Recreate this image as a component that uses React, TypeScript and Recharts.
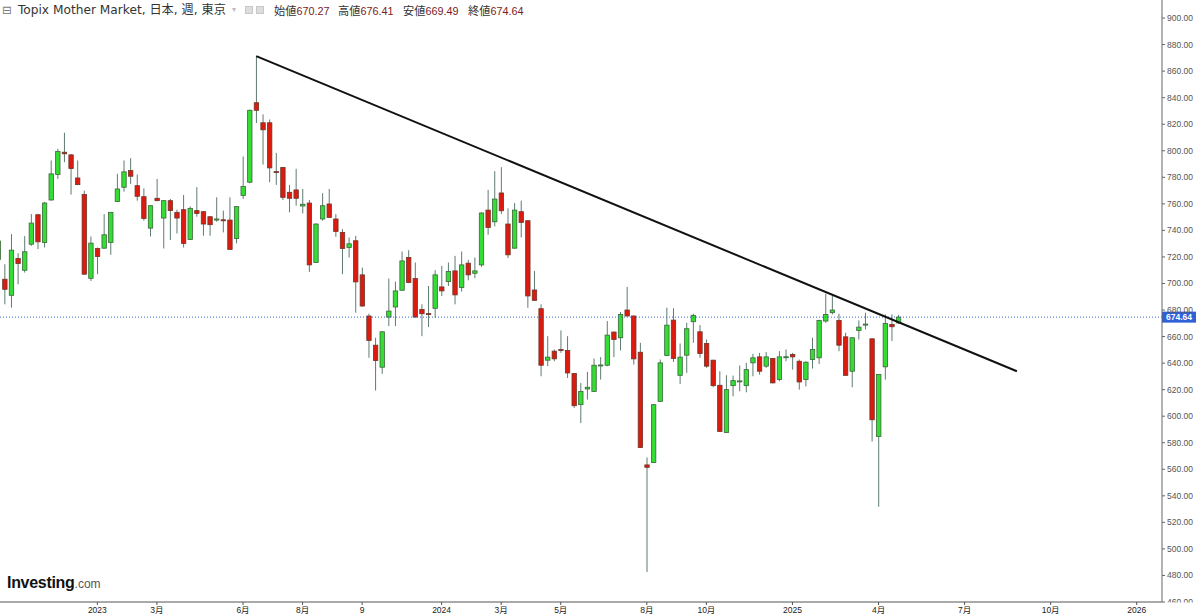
import React from 'react'
import { ComposedChart, Bar, XAxis, YAxis, ReferenceLine } from 'recharts'

// weekly OHLC (week index 0 = first visible candle)
const opens = [
  718, 703.2, 691.1, 718.8, 710.0, 729.6, 751.8, 730.9, 762.9, 782.1,
  798.9, 796.9, 779.5, 767.0, 703.9, 726.4, 726.6, 730.9, 761.7, 772.5,
  785.1, 773.7, 765.4, 741.7, 764.2, 749.3, 762.4, 753.6, 755.6, 733.2,
  754.9, 754.1, 750.3, 747.8, 748.0, 747.8, 733.9, 766.4, 776.3, 836.2,
  821.1, 821.1, 784.3, 787.4, 768.7, 770.5, 758.4, 760.6, 715.8, 748.6,
  759.9, 748.6, 738.5, 727.1, 732.2, 706.5, 675.5, 653.5, 636.9, 674.7,
  682.3, 694.9, 719.6, 703.7, 680.5, 677.3, 681.3, 697.4, 701.4, 709.5,
  696.9, 715.3, 707.7, 714.0, 755.3, 746.5, 768.2, 744.8, 726.6, 754.1,
  747.3, 695.1, 681.0, 642.2, 649.0, 650.3, 649.5, 632.1, 608.7, 620.5,
  618.7, 638.0, 638.4, 663.4, 659.1, 680.0, 675.5, 648.2, 563.3, 565.1,
  611.2, 645.7, 672.4, 630.8, 646.0, 671.2, 663.6, 654.8, 642.2, 623.3,
  587.8, 623.0, 626.0, 623.0, 640.2, 644.7, 637.7, 643.5, 627.6, 644.3,
  646.5, 641.4, 627.6, 642.7, 644.0, 671.7, 678.0, 672.2, 659.8, 633.9,
  664.6, 669.0, 658.3, 584.7, 637.2, 669.2, 670.27,
]
const highs = [
  738.5, 714.5, 737.2, 722.8, 735.7, 752.3, 752.5, 761.5, 792.7, 801.5,
  813.6, 797.5, 792.7, 770.0, 735.4, 727.1, 752.3, 753.9, 782.6, 792.7,
  794.4, 782.1, 771.7, 759.0, 778.8, 762.8, 763.7, 755.6, 766.7, 758.1,
  772.5, 754.5, 750.7, 764.9, 754.9, 764.9, 758.3, 795.7, 831.0, 871.3,
  827.4, 823.6, 798.4, 787.8, 774.3, 786.4, 771.2, 762.9, 745.3, 768.0,
  771.2, 752.3, 741.0, 734.7, 735.9, 712.0, 677.2, 659.1, 664.0, 703.7,
  701.4, 724.1, 725.1, 715.8, 684.3, 698.1, 710.0, 713.3, 715.8, 720.8,
  724.1, 717.8, 719.6, 753.6, 770.5, 784.6, 787.6, 756.6, 760.6, 762.4,
  747.7, 709.5, 684.3, 660.3, 650.3, 664.6, 660.3, 632.5, 625.0, 633.4,
  643.4, 644.5, 671.7, 663.8, 678.5, 697.4, 675.9, 655.3, 568.9, 609.1,
  642.7, 681.7, 681.3, 654.8, 670.4, 677.2, 668.6, 657.8, 642.6, 633.9,
  630.9, 630.6, 638.2, 640.2, 647.0, 647.7, 648.3, 643.9, 649.0, 650.3,
  647.7, 642.7, 641.4, 659.1, 672.6, 692.3, 690.6, 677.2, 662.9, 659.5,
  672.2, 678.0, 658.7, 631.8, 676.7, 676.7, 676.41,
]
const lows = [
  712, 684.3, 681.8, 699.4, 708.2, 728.4, 725.9, 727.1, 762.5, 778.8,
  791.4, 767.0, 774.1, 706.6, 701.9, 707.0, 726.2, 721.6, 761.3, 769.2,
  775.0, 762.4, 747.3, 735.4, 762.0, 726.4, 732.7, 737.7, 727.1, 732.8,
  750.3, 736.0, 736.0, 746.5, 738.5, 725.2, 730.2, 763.7, 775.5, 820.9,
  789.6, 776.3, 774.3, 762.9, 753.6, 758.6, 752.8, 708.7, 715.4, 747.3,
  749.4, 735.2, 707.0, 719.6, 678.0, 682.6, 644.0, 619.3, 631.9, 667.9,
  667.9, 694.5, 700.3, 674.3, 660.3, 667.2, 674.2, 690.6, 698.1, 684.3,
  693.9, 702.4, 704.0, 712.5, 736.7, 743.0, 752.3, 719.1, 726.2, 734.7,
  681.7, 686.9, 630.1, 637.7, 641.4, 647.7, 628.8, 606.2, 594.8, 612.5,
  618.3, 627.6, 637.6, 644.5, 649.5, 675.1, 638.9, 576.0, 482.6, 564.7,
  610.7, 645.3, 640.9, 624.3, 632.6, 655.3, 644.0, 636.4, 621.8, 588.1,
  587.4, 615.0, 618.8, 618.0, 630.1, 631.4, 636.4, 624.7, 626.3, 641.4,
  635.1, 620.0, 622.5, 635.9, 639.4, 670.4, 676.7, 649.0, 630.4, 621.8,
  657.8, 665.4, 580.9, 531.8, 627.6, 656.6, 669.49,
]
const closes = [
  732, 695.6, 725.1, 715.0, 723.9, 745.5, 731.4, 760.6, 782.6, 799.5,
  797.7, 786.6, 774.5, 707.0, 730.4, 720.3, 736.7, 753.6, 771.2, 784.1,
  780.8, 765.7, 749.0, 758.6, 762.4, 762.4, 754.9, 749.3, 730.2, 756.6,
  752.8, 744.8, 744.3, 748.6, 747.3, 725.6, 757.9, 773.0, 830.5, 830.5,
  815.8, 787.1, 783.6, 764.9, 764.2, 764.2, 759.7, 714.0, 744.8, 758.6,
  749.8, 739.2, 726.4, 729.9, 701.2, 683.0, 657.1, 641.9, 663.6, 679.2,
  694.4, 717.0, 700.7, 674.7, 677.2, 676.7, 706.5, 694.4, 709.0, 691.4,
  714.0, 706.5, 709.5, 753.1, 742.2, 763.6, 754.8, 721.6, 755.3, 746.0,
  690.6, 687.3, 638.4, 644.5, 643.2, 649.6, 632.6, 607.9, 618.7, 621.8,
  638.4, 638.6, 661.1, 657.8, 676.7, 675.5, 643.2, 576.4, 561.5, 608.7,
  640.2, 668.6, 643.5, 644.5, 665.9, 676.0, 647.2, 637.7, 623.0, 588.5,
  620.0, 626.8, 626.6, 635.1, 644.0, 633.9, 644.7, 625.1, 644.7, 644.8,
  644.7, 625.8, 640.7, 650.3, 672.2, 676.7, 680.0, 653.5, 630.8, 659.1,
  667.1, 669.4, 597.3, 631.4, 669.9, 667.4, 674.64,
]

// first candle of each labelled period
const tickWeeks = [15, 24, 37, 46, 55, 67, 76, 85, 98, 107, 120, 133, 146, 159, 172]
const tickLabels = ['2023', '3月', '6月', '8月', '9', '2024', '3月', '5月', '8月', '10月', '2025', '4月', '7月', '10月', '2026']
const priceTicks = [460, 480, 500, 520, 540, 560, 580, 600, 620, 640, 660, 680, 700, 720, 740, 760, 780, 800, 820, 840, 860, 880, 900]

const lastPrice = 674.64
const trendStart = { week: 39, price: 871.3 }
const trendEnd = { week: 153.9, price: 633.9 }

const candles = opens.map((open, i) => ({
  week: i,
  open,
  high: highs[i],
  low: lows[i],
  close: closes[i],
}))

const axisFont = "'Liberation Sans', Arial, 'Noto Sans CJK JP', sans-serif"

function Candle(props: any) {
  const { x, y, width, height } = props
  const d = props.payload ?? props
  const cx = x + width / 2
  const range = d.high - d.low
  const py = (v: number) => (range === 0 ? y : y + ((d.high - v) / range) * height)
  const up = d.close >= d.open
  const top = py(Math.max(d.open, d.close))
  const bottom = py(Math.min(d.open, d.close))
  const h = Math.max(bottom - top, 1)
  return (
    <g>
      <line x1={cx} x2={cx} y1={y} y2={y + height} stroke="#5f7b72" strokeWidth={1} />
      <rect
        x={cx - 2.2}
        y={top}
        width={4.4}
        height={h}
        fill={up ? '#33dd33' : '#dd1a0e'}
        stroke={up ? '#3a663a' : '#6e3528'}
        strokeWidth={0.8}
      />
    </g>
  )
}

function PriceTick(props: any) {
  const { x, y, payload } = props
  const v = payload.value
  const bottom = v === priceTicks[0]
  return (
    <g>
      {bottom && (
        <defs>
          <clipPath id="bottom-price-clip">
            <rect x={x - 4} y={y - 10} width={44} height={10.5} />
          </clipPath>
        </defs>
      )}
      <text
        x={x}
        y={y}
        dy="0.35em"
        textAnchor="start"
        fontSize={8.5}
        fill="#555"
        fontFamily={axisFont}
        clipPath={bottom ? 'url(#bottom-price-clip)' : undefined}
      >
        {v.toFixed(2)}
      </text>
    </g>
  )
}

function PriceTag(props: any) {
  const { x, y, width } = props.viewBox
  const left = x + width
  return (
    <g>
      <rect x={left} y={y - 5.5} width={34} height={11} fill="#2f60d8" />
      <text x={left + 17} y={y} dy="0.35em" textAnchor="middle" fontSize={8.5} fontWeight="bold" fill="#fff" fontFamily={axisFont}>
        {lastPrice.toFixed(2)}
      </text>
    </g>
  )
}

const headFont = "'DejaVu Sans', 'Noto Sans CJK JP', sans-serif"
const valFont = "'Liberation Sans', Arial, sans-serif"

const quote = [
  { label: '始値', value: '670.27', left: 274 },
  { label: '高値', value: '676.41', left: 338 },
  { label: '安値', value: '669.49', left: 403 },
  { label: '終値', value: '674.64', left: 468 },
]

export default function App() {
  return (
    <div style={{ position: 'absolute', left: 0, top: 0, width: 1200, height: 616, background: '#fff', overflow: 'hidden' }}>
      <ComposedChart width={1200} height={616} data={candles} margin={{ top: 0, right: 0, bottom: 0, left: 0 }}>
        <XAxis
          dataKey="week"
          type="number"
          domain={[0.295, 175.82]}
          allowDataOverflow
          ticks={tickWeeks}
          interval={0}
          tickFormatter={(v: number) => tickLabels[tickWeeks.indexOf(v)] ?? ''}
          height={14}
          tickSize={3}
          stroke="#555"
          tick={{ fontSize: 8.5, fill: '#222', fontFamily: axisFont }}
        />
        <YAxis
          orientation="right"
          type="number"
          domain={[460, 913.6]}
          allowDataOverflow
          ticks={priceTicks}
          interval={0}
          width={38}
          tickSize={3}
          stroke="#666"
          tick={<PriceTick />}
        />
        <Bar
          dataKey={(d: any) => [d.low, d.high]}
          barSize={5}
          shape={(p: any) => <Candle {...p} />}
          isAnimationActive={false}
        />
        <ReferenceLine y={lastPrice} stroke="#3b63d6" strokeDasharray="1 2" label={<PriceTag />} />
        <ReferenceLine
          segment={[
            { x: trendStart.week, y: trendStart.price },
            { x: trendEnd.week, y: trendEnd.price },
          ]}
          stroke="#111"
          strokeWidth={2}
        />
      </ComposedChart>

      <div style={{ position: 'absolute', left: 2, top: 0, lineHeight: '20px', fontSize: 11.5, fontFamily: headFont, color: '#777' }}>⊟</div>
      <div style={{ position: 'absolute', left: 17.9, top: 0, lineHeight: '20px', fontSize: 12.2, fontFamily: headFont, color: '#333', whiteSpace: 'nowrap' }}>
        Topix Mother Market, 日本, 週, 東京
      </div>
      <div style={{ position: 'absolute', left: 232, top: 0, lineHeight: '20px', fontSize: 8, fontFamily: headFont, color: '#bbb' }}>▾</div>
      <div style={{ position: 'absolute', left: 245, top: 6, width: 8, height: 8, background: '#ddd', border: '1px solid #c8c8c8', boxSizing: 'border-box' }} />
      <div style={{ position: 'absolute', left: 256, top: 6, width: 8, height: 8, background: '#ddd', border: '1px solid #c8c8c8', boxSizing: 'border-box' }} />
      {quote.map((q) => (
        <div key={q.label} style={{ position: 'absolute', left: q.left, top: 0, lineHeight: '20px', whiteSpace: 'nowrap' }}>
          <span style={{ fontSize: 11.2, fontFamily: headFont, color: '#333' }}>{q.label}</span>
          <span style={{ fontSize: 10.8, fontFamily: valFont, color: '#7a1c1c' }}>{q.value}</span>
        </div>
      ))}

      <div style={{ position: 'absolute', left: 7, top: 575, lineHeight: '16px', whiteSpace: 'nowrap' }}>
        <span style={{ fontSize: 16, fontWeight: 'bold', fontFamily: valFont, color: '#111', letterSpacing: -0.3 }}>Investing</span>
        <span style={{ fontSize: 12, fontFamily: valFont, color: '#555' }}>.com</span>
      </div>
    </div>
  )
}
